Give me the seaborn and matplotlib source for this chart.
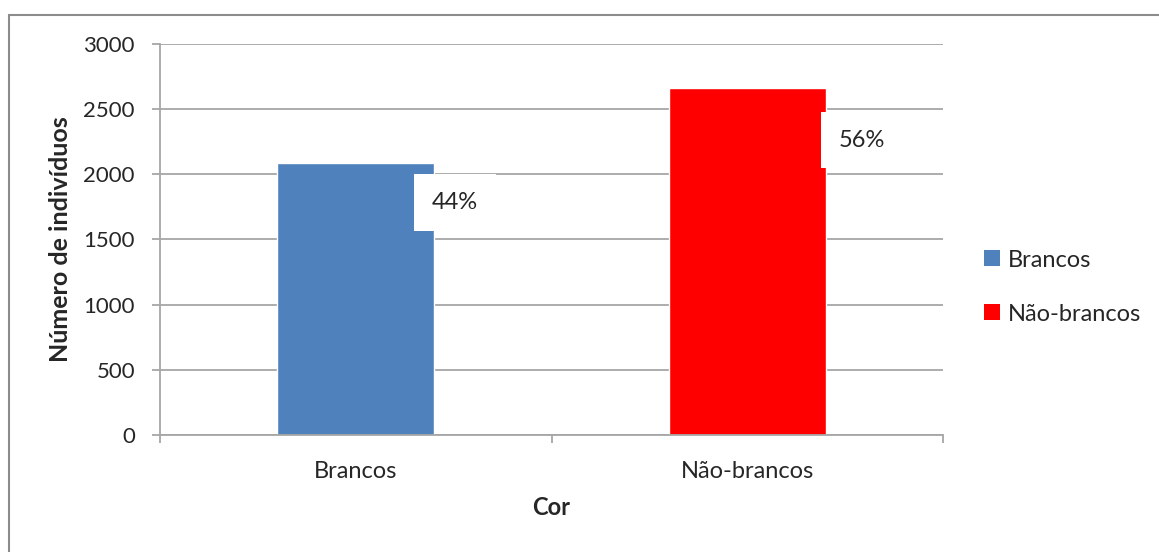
import pandas as pd
import matplotlib.pyplot as plt
import seaborn as sns
from matplotlib.lines import Line2D
from matplotlib.patches import Patch

# Dados
categorias = ['Brancos', 'Não-brancos']
individuos = [2087, 2662]
percentuais = ['44%', '56%']
cores = ['#4F81BD', '#FF0000']

df = pd.DataFrame({'Cor': categorias, 'Individuos': individuos})

sns.set_style('white')
plt.rcParams['font.family'] = ['Lato', 'DejaVu Sans']

fig = plt.figure(figsize=(11.59, 5.52), dpi=100)
ax = fig.add_axes([0.138, 0.212, 0.6757, 0.7083])

sns.barplot(x='Cor', y='Individuos', hue='Cor', data=df, palette=cores,
            width=0.4, saturation=1, legend=False, ax=ax, zorder=2)

ax.set_ylim(0, 3000)
ax.set_xlim(-0.5, 1.5)
ax.set_yticks(range(0, 3001, 500))
ax.yaxis.grid(True, color='#A6A6A6', linewidth=1.3, zorder=0)
ax.set_axisbelow(True)

for s in ['top', 'right']:
    ax.spines[s].set_visible(False)
for s in ['left', 'bottom']:
    ax.spines[s].set_color('#A6A6A6')
    ax.spines[s].set_linewidth(1.3)

# ticks do eixo x nas fronteiras das categorias
ax.set_xticks([0, 1])
ax.set_xticklabels(categorias, fontsize=17)
ax.set_xticks([-0.5, 0.5, 1.5], minor=True)
ax.tick_params(axis='x', which='major', length=0, pad=19)
ax.tick_params(axis='x', which='minor', length=6, direction='out',
               color='#A6A6A6', width=1.3)
ax.tick_params(axis='y', length=6, direction='out', color='#A6A6A6',
               width=1.3, labelsize=16, pad=12)
ax.xaxis.set_ticks_position('bottom')
ax.yaxis.set_ticks_position('left')

ax.set_xlabel('Cor', fontsize=17, fontweight='bold', labelpad=10)
ax.set_ylabel('Número de indivíduos', fontsize=18, fontweight='bold', labelpad=8)

# rótulos de percentagem com caixa branca (deslocamentos em pontos)
desloc = [(15, -28.5), (26, -37.5)]
for i, (v, p) in enumerate(zip(individuos, percentuais)):
    ax.annotate(p, xy=(i + 0.2, v), xytext=desloc[i], textcoords='offset points',
                ha='center', va='center', fontsize=17,
                bbox=dict(boxstyle='square,pad=0.75', fc='white', ec='none'),
                zorder=5)

handles = [Patch(facecolor=c, edgecolor='none') for c in cores]
fig.legend(handles, categorias, loc='center left', bbox_to_anchor=(0.831, 0.48),
           frameon=False, fontsize=17, handlelength=0.65, handleheight=0.65,
           handletextpad=0.35, labelspacing=1.4)

# moldura (apenas topo e esquerda)
fig.add_artist(Line2D([9 / 1159, 1], [1 - 15 / 552, 1 - 15 / 552],
                      transform=fig.transFigure, color='#8C8C8C', linewidth=1.5))
fig.add_artist(Line2D([9 / 1159, 9 / 1159], [0, 1 - 15 / 552],
                      transform=fig.transFigure, color='#8C8C8C', linewidth=1.5))

fig.savefig('out.png', dpi=100)
